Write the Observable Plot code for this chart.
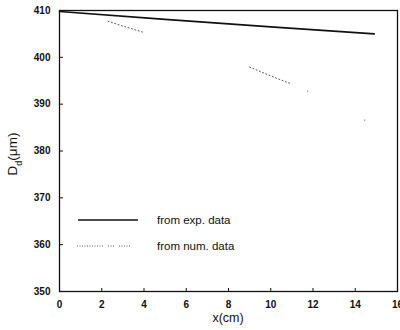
<!DOCTYPE html>
<html>
<head>
<meta charset="utf-8">
<script src="https://cdn.jsdelivr.net/npm/d3@7"></script>
<script src="https://cdn.jsdelivr.net/npm/@observablehq/plot@0.6"></script>
<style>
  html, body { margin: 0; padding: 0; background: #fff; }
  #chart { width: 400px; height: 330px; position: relative; }
  svg { font-family: "Liberation Sans", Arial, sans-serif; }
</style>
</head>
<body>
<div id="chart"></div>
<script>
// Experimental data (solid line)
const expX = [0, 5, 10, 14.9];
const expY = [409.8, 408.1, 406.5, 405.0];

// Numerical data (dotted, partially visible in the scan; NaN = gap)
const numX = [2.3, 2.9, 3.5, 4.0, NaN, 9.0, 9.7, 10.4, 11.0, NaN, 11.75, NaN, 14.45];
const numY = [407.7, 406.8, 406.0, 405.3, NaN, 397.9, 396.6, 395.3, 394.3, NaN, 392.8, NaN, 386.6];

const xTicks = [0, 2, 4, 6, 8, 10, 12, 14, 16];
const yTicks = [350, 360, 370, 380, 390, 400, 410];

const legendLabels = ["from exp. data", "from num. data"];
const xLabel = "x(cm)";

const expData = expX.map((x, i) => ({x, y: expY[i]}));
const numData = numX.map((x, i) => ({x, y: numY[i]}));
const numDots = numData.filter((d, i) =>
  !isNaN(d.x) && (i === 0 || isNaN(numX[i - 1])) && (i === numX.length - 1 || isNaN(numX[i + 1])));

const plot = Plot.plot({
  width: 400,
  height: 330,
  marginLeft: 59,
  marginRight: 3,
  marginTop: 10,
  marginBottom: 39,
  style: {fontFamily: "Liberation Sans, Arial, sans-serif", fontSize: "10.5px", color: "#111", background: "#fff"},
  x: {domain: [0, 16]},
  y: {domain: [350, 410]},
  marks: [
    Plot.axisX({ticks: xTicks, tickSize: 0, tickPadding: 9, label: null, fontWeight: "bold", fontSize: 10}),
    Plot.axisX({ticks: xTicks, tickSize: -3, tickFormat: () => "", label: null}),
    Plot.axisY({ticks: yTicks, tickSize: 0, tickPadding: 9, label: null, fontWeight: "bold", fontSize: 10}),
    Plot.axisY({ticks: yTicks, tickSize: -4, tickFormat: () => "", label: null}),
    Plot.frame({stroke: "#111", strokeWidth: 1.3}),
    Plot.line(expData, {x: "x", y: "y", stroke: "#111", strokeWidth: 1.6}),
    Plot.line(numData, {x: "x", y: "y", stroke: "#555", strokeWidth: 1, strokeDasharray: "1,2.5"}),
    Plot.dot(numDots, {x: "x", y: "y", r: 0.6, fill: "#555"})
  ]
});

document.getElementById("chart").appendChild(plot);

const svg = d3.select(plot);

// Y-axis label with subscript
const yl = svg.append("text")
  .attr("transform", "translate(17,154) rotate(-90)")
  .attr("text-anchor", "middle")
  .attr("font-size", 13.5)
  .attr("fill", "#111");
yl.append("tspan").text("D");
yl.append("tspan").attr("baseline-shift", "sub").attr("font-size", 9).text("d");
yl.append("tspan").text("(\u03BCm)");

// X-axis label
svg.append("text")
  .attr("x", 228).attr("y", 322)
  .attr("text-anchor", "middle")
  .attr("font-size", 12.5)
  .attr("fill", "#111")
  .text(xLabel);

// Legend inside the plot
const lg = svg.append("g").attr("text-anchor", "start");
lg.append("line").attr("x1", 78).attr("x2", 138).attr("y1", 220).attr("y2", 220)
  .attr("stroke", "#111").attr("stroke-width", 1.6);
lg.append("line").attr("x1", 77).attr("x2", 131).attr("y1", 246).attr("y2", 246)
  .attr("stroke", "#555").attr("stroke-width", 1).attr("stroke-dasharray", "1,1.5,1,1.5,1,1.5,1,1.5,1,1.5,1,1.5,1,1.5,1,1.5,1,1.5,1,1.5,1,5,1,1.5,1,1.5,1,5,1,1.5");
lg.append("text").attr("x", 157).attr("y", 224).attr("text-anchor", "start").attr("font-size", 11.5).attr("fill", "#111").text(legendLabels[0]);
lg.append("text").attr("x", 157).attr("y", 250).attr("text-anchor", "start").attr("font-size", 11.5).attr("fill", "#111").text(legendLabels[1]);
</script>
</body>
</html>
